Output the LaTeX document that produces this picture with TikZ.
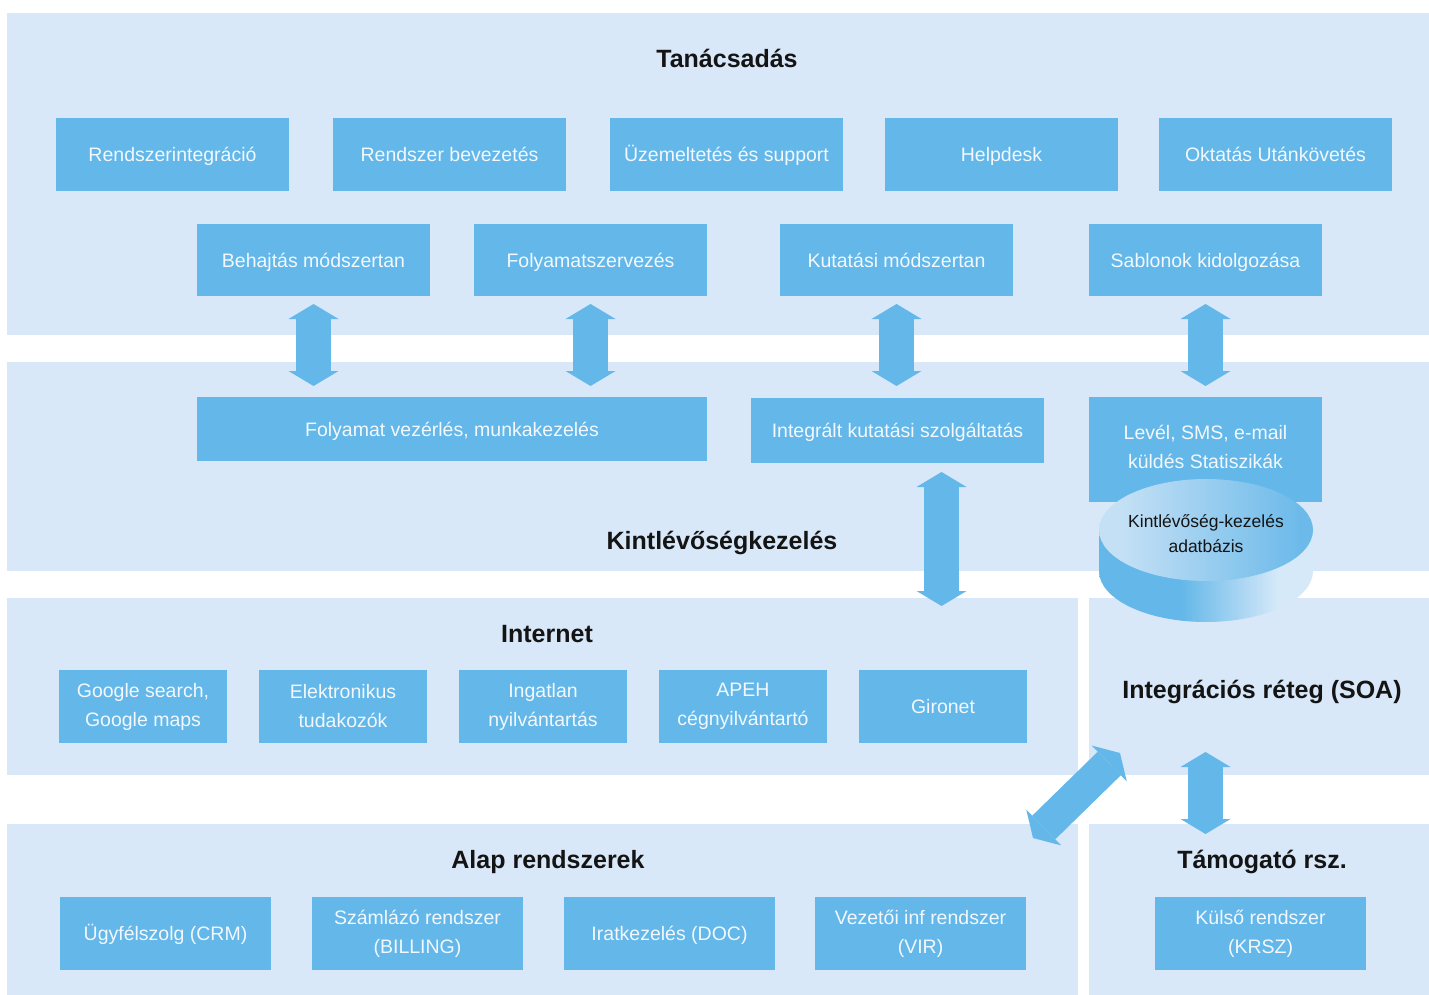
\documentclass[tikz,border=0pt]{standalone}
\usepackage{fontspec}
\setmainfont{Liberation Sans}
\usetikzlibrary{arrows.meta,calc}
\definecolor{panel}{HTML}{D8E8F8}
\definecolor{boxblue}{HTML}{63B7E9}
\definecolor{boxtext}{HTML}{F2F8FD}
\definecolor{ttlcol}{HTML}{141414}
\definecolor{dbtop}{HTML}{C4E0F5}
\definecolor{dbtopr}{HTML}{6CBAEA}
\definecolor{dblight}{HTML}{D6E9F8}
\pgfdeclarehorizontalshading{cylside}{100bp}{color(0bp)=(boxblue); color(44bp)=(boxblue); color(67bp)=(dblight); color(100bp)=(dblight)}
\pgfdeclarehorizontalshading{cyltop}{100bp}{color(0bp)=(dbtop); color(30bp)=(dbtop); color(72bp)=(dbtopr); color(100bp)=(dbtopr)}
\begin{document}
\begin{tikzpicture}[x=1pt,y=-1pt,
  panelbox/.style={fill=panel, inner sep=0pt, outer sep=0pt, anchor=north west},
  bluebox/.style={fill=boxblue, text=boxtext, inner sep=0pt, outer sep=0pt, align=center,
    font=\fontsize{19.5}{29}\selectfont},
  onebox/.style={bluebox, text height=14pt, text depth=0pt},
  twobox/.style={bluebox},
  ttl/.style={text=ttlcol, inner sep=0pt, text height=18pt, text depth=0pt, font=\fontsize{25}{30}\selectfont\bfseries},
  dblarrow/.style={draw=boxblue, line width=35pt, {Triangle[width=50pt,length=15pt,line width=0pt]}-{Triangle[width=50pt,length=15pt,line width=0pt]}}
]
\useasboundingbox (0,0) rectangle (1429,995);
\fill[white] (0,0) rectangle (1429,995);

% panels
\node[panelbox, minimum width=1422pt, minimum height=322pt] (ptop) at (7,13) {};
\node[panelbox, minimum width=1422pt, minimum height=209pt] (pkint) at (7,362) {};
\node[panelbox, minimum width=1071pt, minimum height=177pt] (pinet) at (7,598) {};
\node[panelbox, minimum width=340pt, minimum height=177pt] (psoa) at (1089,598) {};
\node[panelbox, minimum width=1071pt, minimum height=171pt] (palap) at (7,824) {};
\node[panelbox, minimum width=340pt, minimum height=171pt] (ptam) at (1089,824) {};

% titles
\node[ttl] (t1) at (727,59) {Tanácsadás};
\node[ttl] (t2) at (722,540) {Kintlévőségkezelés};
\node[ttl] (t3) at (547,633) {Internet};
\node[ttl] (t4) at (1262,689) {Integrációs réteg (SOA)};
\node[ttl] (t5) at (548,859) {Alap rendszerek};
\node[ttl] (t6) at (1262,859) {Támogató rsz.};

% row 1
\node[onebox, minimum width=233pt, minimum height=73pt] (r1a) at (172.5,154.5) {Rendszerintegráció};
\node[onebox, minimum width=233pt, minimum height=73pt] (r1b) at (449.5,154.5) {Rendszer bevezetés};
\node[onebox, minimum width=233pt, minimum height=73pt] (r1c) at (726.5,154.5) {Üzemeltetés és support};
\node[onebox, minimum width=233pt, minimum height=73pt] (r1d) at (1001.5,154.5) {Helpdesk};
\node[onebox, minimum width=233pt, minimum height=73pt] (r1e) at (1275.5,154.5) {Oktatás Utánkövetés};

% row 2
\node[onebox, minimum width=233pt, minimum height=72pt] (beh) at (313.5,260) {Behajtás módszertan};
\node[onebox, minimum width=233pt, minimum height=72pt] (fsz) at (590.5,260) {Folyamatszervezés};
\node[onebox, minimum width=233pt, minimum height=72pt] (kut) at (896.5,260) {Kutatási módszertan};
\node[onebox, minimum width=233pt, minimum height=72pt] (sab) at (1205.5,260) {Sablonok kidolgozása};

% row 3
\node[onebox, minimum width=510pt, minimum height=64pt] (fv) at (452,429) {Folyamat vezérlés, munkakezelés};
\node[onebox, minimum width=293pt, minimum height=65pt] (ik) at (897.5,430.5) {Integrált kutatási szolgáltatás};
\node[fill=boxblue, inner sep=0pt, outer sep=0pt, minimum width=233pt, minimum height=105pt] (lev) at (1205.5,449.5) {};
\node[text=boxtext, align=center, inner sep=0pt, font=\fontsize{19.5}{29}\selectfont] (levt) at (1205.5,446.5) {Levél, SMS, e-mail\\küldés Statiszikák};

% internet boxes
\node[twobox, minimum width=168pt, minimum height=73pt] (goo) at (143,706.5) {Google search,\\Google maps};
\node[twobox, minimum width=168pt, minimum height=73pt] (ele) at (343,706.5) {Elektronikus\\tudakozók};
\node[twobox, minimum width=168pt, minimum height=73pt] (ing) at (543,706.5) {Ingatlan\\nyilvántartás};
\node[twobox, minimum width=168pt, minimum height=73pt] (ape) at (743,706.5) {APEH\\cégnyilvántartó};
\node[onebox, minimum width=168pt, minimum height=73pt] (gir) at (943,706.5) {Gironet};

% alap boxes
\node[onebox, minimum width=211pt, minimum height=73pt] (crm) at (165.5,933.5) {Ügyfélszolg (CRM)};
\node[twobox, minimum width=211pt, minimum height=73pt] (bil) at (417.5,933.5) {Számlázó rendszer\\(BILLING)};
\node[onebox, minimum width=211pt, minimum height=73pt] (doc) at (669.5,933.5) {Iratkezelés (DOC)};
\node[twobox, minimum width=211pt, minimum height=73pt] (vir) at (920.5,933.5) {Vezetői inf rendszer\\(VIR)};
\node[twobox, minimum width=211pt, minimum height=73pt] (krsz) at (1260.5,933.5) {Külső rendszer\\(KRSZ)};

% database cylinder
\shade[shading=cylside] (1099,530) -- (1099,571) arc[start angle=180, end angle=0, x radius=107, y radius=51] -- (1313,530) -- cycle;
\shade[shading=cyltop] (1206,530) ellipse[x radius=107, y radius=51];
\node[text=ttlcol, align=center, inner sep=0pt, font=\fontsize{17.5}{25}\selectfont] (db) at (1206,534) {Kintlévőség-kezelés\\adatbázis};

% arrows
\draw[dblarrow, shorten <=8pt, shorten >=11pt] (beh.south) -- (beh.south |- fv.north);
\draw[dblarrow, shorten <=8pt, shorten >=11pt] (fsz.south) -- (fsz.south |- fv.north);
\draw[dblarrow, shorten <=8pt, shorten >=12pt] (kut.south) -- (kut.south |- ik.north);
\draw[dblarrow, shorten <=8pt, shorten >=11pt] (sab.south) -- (lev.north);
\coordinate (ikend) at (941.5,606);
\draw[dblarrow, shorten <=9pt] (ikend |- ik.south) -- (ikend);
\coordinate (soaA) at (1205.5,752);
\coordinate (tamB) at (1205.5,834);
\draw[dblarrow] (soaA) -- (tamB);
\coordinate (diagA) at (1120,753);
\coordinate (diagB) at (1033,838);
\draw[dblarrow, line width=33pt] (diagA) -- (diagB);
\end{tikzpicture}
\end{document}
